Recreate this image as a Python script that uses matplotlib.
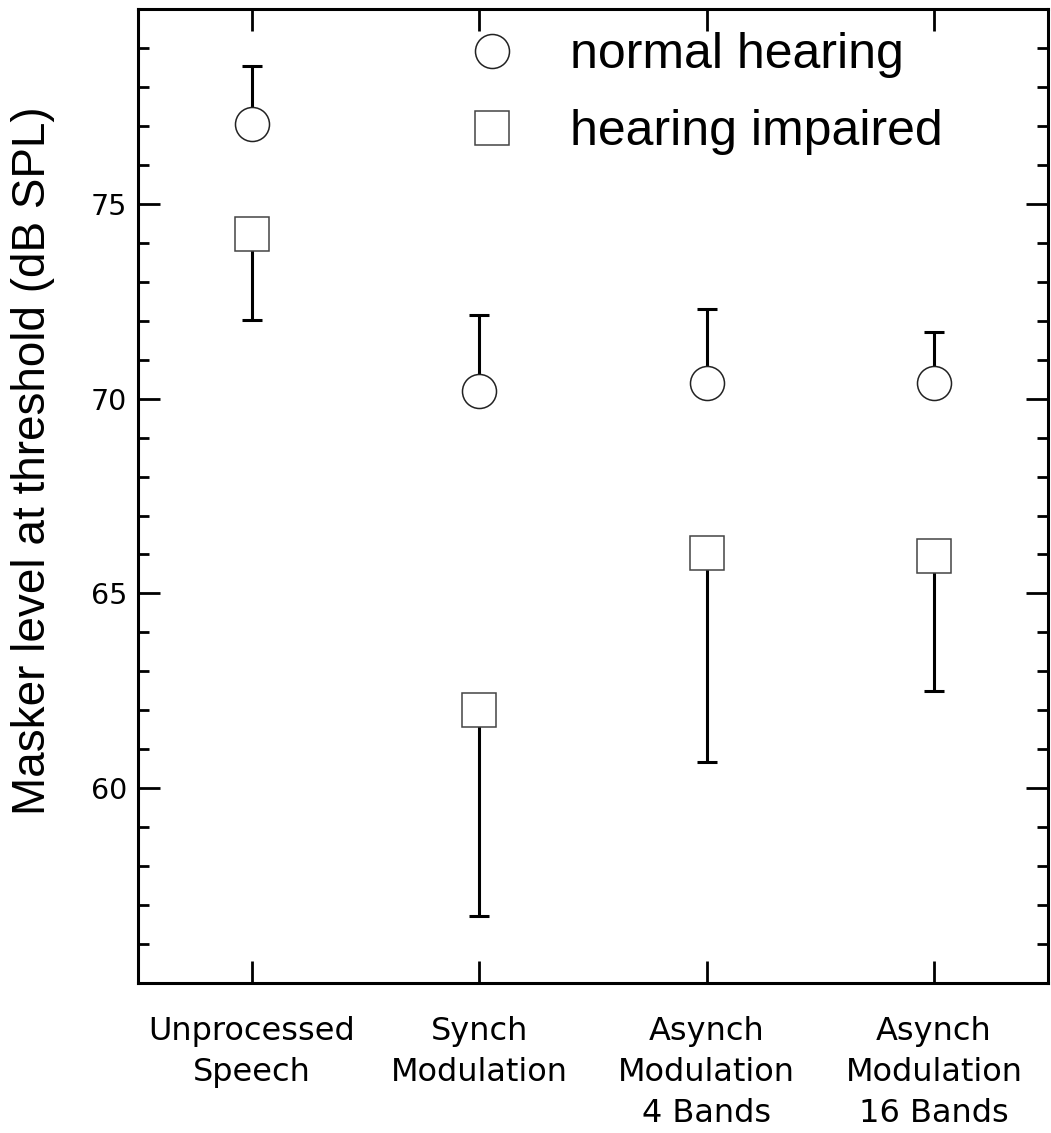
import numpy as np
import matplotlib
matplotlib.use("Agg")
import matplotlib.pyplot as plt
from matplotlib.ticker import MultipleLocator

conditions = ["Unprocessed\nSpeech", "Synch\nModulation",
              "Asynch\nModulation\n4 Bands", "Asynch\nModulation\n16 Bands"]
normal_mean = [77.04, 70.2, 70.41, 70.41]
normal_err_up = [1.5, 1.94, 1.9, 1.3]
impaired_mean = [74.23, 62.01, 66.03, 65.95]
impaired_err_down = [2.2, 5.3, 5.36, 3.45]

x = np.arange(1, len(conditions) + 1)

fig = plt.figure(figsize=(10.51, 11.33), dpi=100)
ax = fig.add_axes([0.1313, 0.1324, 0.8657, 0.8596])

# one-sided error bars: up for normal hearing, down for impaired
ax.errorbar(x, normal_mean, yerr=[np.zeros(4), normal_err_up], fmt="none",
            ecolor="black", elinewidth=2.2, capsize=7.5, capthick=2.2, zorder=2)
ax.errorbar(x, impaired_mean, yerr=[impaired_err_down, np.zeros(4)], fmt="none",
            ecolor="black", elinewidth=2.2, capsize=7.5, capthick=2.2, zorder=2)

ax.plot(x, normal_mean, "o", ms=24.5, mfc="white", mec="#222222", mew=1.1,
        ls="none", label="normal hearing", zorder=3)
ax.plot(x, impaired_mean, "s", ms=24, mfc="white", mec="#444444", mew=1.1,
        ls="none", label="hearing impaired", zorder=3)

ax.set_xlim(0.5, 4.5)
ax.set_ylim(55, 80)
ax.set_xticks(x)
ax.set_xticklabels(conditions, fontsize=23, linespacing=1.42,
                   family="DejaVu Sans")
ax.set_yticks([60, 65, 70, 75])
ax.yaxis.set_minor_locator(MultipleLocator(1))
for lab in ax.get_yticklabels():
    lab.set_fontsize(20.5)

ax.tick_params(axis="both", which="major", direction="in", length=16, width=2,
               top=True, right=True)
ax.tick_params(axis="y", which="minor", direction="in", length=8, width=2,
               right=True)
ax.tick_params(axis="x", pad=24)
ax.tick_params(axis="y", pad=8)
for sp in ax.spines.values():
    sp.set_linewidth(2.2)

ax.set_ylabel("Masker level at threshold (dB SPL)", fontsize=33,
              family="Liberation Sans")
ax.yaxis.set_label_coords(-0.091, 0.536)

ax.legend(loc="upper left", bbox_to_anchor=(0.345, 0.976), frameon=False,
          prop={"family": "Liberation Sans", "size": 36}, handlelength=1.6,
          handletextpad=0.76, labelspacing=0.62, borderpad=0, borderaxespad=0)

fig.savefig("out.png", dpi=100)
